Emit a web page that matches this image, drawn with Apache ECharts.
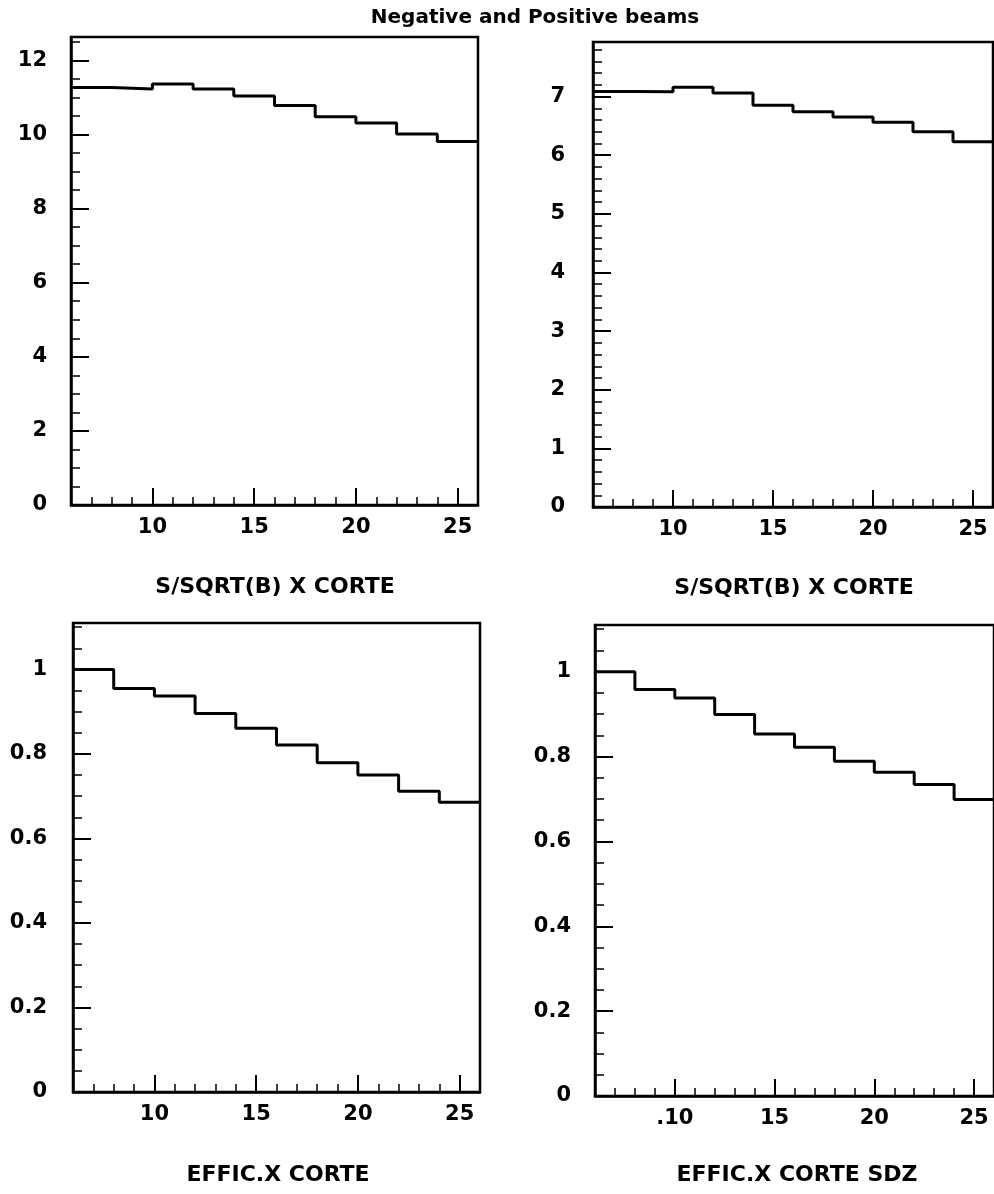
<!DOCTYPE html>
<html>
<head>
<meta charset="utf-8">
<script src="https://cdn.jsdelivr.net/npm/echarts@6/dist/echarts.min.js"></script>
<style>
html,body{margin:0;padding:0;background:#fff;}
#c{width:994px;height:1194px;}
</style>
</head>
<body>
<div id="c"></div>
<script>
// ---- data ----
const binEdges = [6, 8, 10, 12, 14, 16, 18, 20, 22, 24, 26];
const ssqrtNeg = [11.27, 11.23, 11.36, 11.23, 11.04, 10.78, 10.48, 10.31, 10.01, 9.81];
const ssqrtPos = [7.085, 7.08, 7.16, 7.06, 6.85, 6.74, 6.65, 6.56, 6.40, 6.23];
const efficCorte = [1.0, 0.955, 0.937, 0.896, 0.861, 0.821, 0.779, 0.750, 0.712, 0.686];
const efficCorteSdz = [1.0, 0.958, 0.938, 0.899, 0.853, 0.822, 0.789, 0.763, 0.734, 0.699];
const xTickValues = [10, 15, 20, 25];
const yTicksTL = [0, 2, 4, 6, 8, 10, 12];
const yTicksTR = [0, 1, 2, 3, 4, 5, 6, 7];
const yTicksB = [0, 0.2, 0.4, 0.6, 0.8, 1];
const mainTitle = 'Negative and Positive beams';
const panelTitles = ['S/SQRT(B) X CORTE', 'S/SQRT(B) X CORTE', 'EFFIC.X CORTE', 'EFFIC.X CORTE SDZ'];

const FONT = 'DejaVu Sans';
const labelStyle = {color: '#000', fontFamily: FONT, fontWeight: 'bold', fontSize: 21};

const panels = [
  {grid: {left: 71, right: 516, top: 37, bottom: 689}, ymax: 12.63, yTicks: yTicksTL, minor: 0.5, ylm: 24, vals: ssqrtNeg, xfmt: v => String(v), tx: 275, ty: 576},
  {grid: {left: 593, right: 1, top: 42, bottom: 687}, ymax: 7.93, yTicks: yTicksTR, minor: 0.2, ylm: 28, vals: ssqrtPos, xfmt: v => String(v), tx: 794, ty: 577},
  {grid: {left: 73, right: 514, top: 623, bottom: 102}, ymax: 1.11, yTicks: yTicksB, minor: 0.05, ylm: 26, vals: efficCorte, xfmt: v => String(v), tx: 278, ty: 1164},
  {grid: {left: 595, right: -4, top: 625, bottom: 98}, ymax: 1.11, yTicks: yTicksB, minor: 0.05, ylm: 24, vals: efficCorteSdz, xfmt: v => (v === 10 ? '.10' : String(v)), tx: 797, ty: 1164}
];

const grids = [], xAxes = [], yAxes = [], series = [];
const titles = [{
  text: mainTitle, left: 535, top: 8, textAlign: 'center', padding: 0,
  textStyle: {color: '#000', fontFamily: FONT, fontWeight: 'bold', fontSize: 20}
}];

panels.forEach((p, i) => {
  grids.push(Object.assign({show: true, borderColor: '#000', borderWidth: 2.5, backgroundColor: 'transparent'}, p.grid));
  // main x axis: long ticks + labels
  xAxes.push({
    type: 'value', gridIndex: i, min: 6, max: 26, position: 'bottom',
    axisLine: {show: true, onZero: false, lineStyle: {color: '#000', width: 2.5}},
    axisTick: {show: true, inside: true, length: 17, customValues: xTickValues, lineStyle: {color: '#000', width: 2}},
    axisLabel: {show: true, customValues: xTickValues, margin: 12, formatter: p.xfmt, ...labelStyle},
    splitLine: {show: false}
  });
  // minor x axis: short ticks every 1
  xAxes.push({
    type: 'value', gridIndex: i, min: 6, max: 26, interval: 1, position: 'bottom',
    axisLine: {show: false, onZero: false},
    axisTick: {show: true, inside: true, length: 8, lineStyle: {color: '#000', width: 1.5}},
    axisLabel: {show: false}, splitLine: {show: false}
  });
  yAxes.push({
    type: 'value', gridIndex: i, min: 0, max: p.ymax, position: 'left',
    axisLine: {show: true, onZero: false, lineStyle: {color: '#000', width: 2.5}},
    axisTick: {show: true, inside: true, length: 18, customValues: p.yTicks, lineStyle: {color: '#000', width: 2}},
    axisLabel: {show: true, customValues: p.yTicks, margin: p.ylm, ...labelStyle},
    splitLine: {show: false}
  });
  yAxes.push({
    type: 'value', gridIndex: i, min: 0, max: p.ymax, interval: p.minor, position: 'left',
    axisLine: {show: false, onZero: false},
    axisTick: {show: true, inside: true, length: 9, lineStyle: {color: '#000', width: 1.5}},
    axisLabel: {show: false}, splitLine: {show: false}
  });
  series.push({
    type: 'line', step: 'end', xAxisIndex: i * 2, yAxisIndex: i * 2,
    showSymbol: false, symbol: 'none', animation: false,
    lineStyle: {color: '#000', width: 3},
    data: binEdges.map((e, k) => [e, p.vals[Math.min(k, p.vals.length - 1)]])
  });
  titles.push({
    text: panelTitles[i], left: p.tx, top: p.ty, textAlign: 'center', padding: 0,
    textStyle: {color: '#000', fontFamily: FONT, fontWeight: 'bold', fontSize: 22}
  });
});

const chart = echarts.init(document.getElementById('c'), null, {renderer: 'canvas'});
chart.setOption({
  backgroundColor: '#fff',
  animation: false,
  title: titles,
  grid: grids,
  xAxis: xAxes,
  yAxis: yAxes,
  series: series
});
</script>
</body>
</html>
